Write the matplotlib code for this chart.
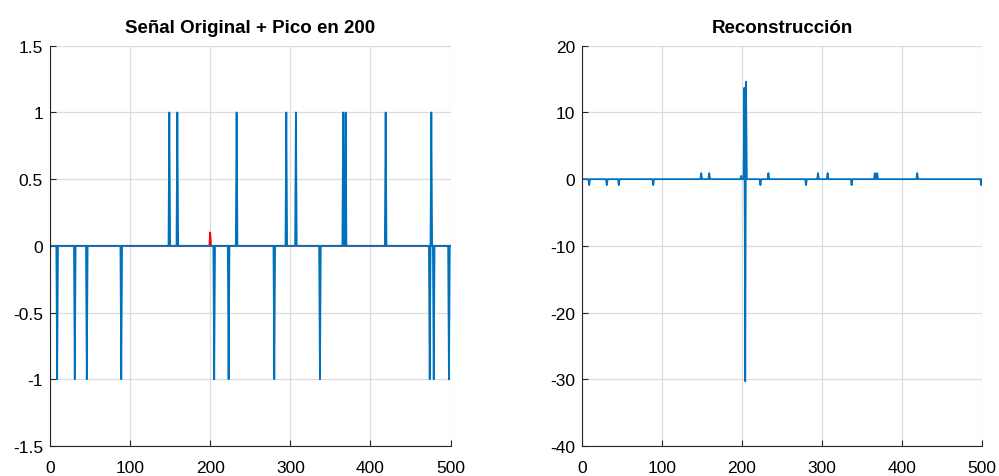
import numpy as np
import matplotlib
matplotlib.use("Agg")
import matplotlib.pyplot as plt

plt.rcParams["font.family"] = ["Liberation Sans", "DejaVu Sans"]

N = 500
# sparse original signal: sample index -> amplitude
spike_pos = [9, 31, 46, 89, 149, 159, 205, 223, 233, 280, 295, 307,
             337, 366, 369, 419, 474, 476, 479, 498]
spike_val = [-1, -1, -1, -1, 1, 1, -1, -1, 1, -1, 1, 1,
             -1, 1, 1, 1, -1, 1, -1, -1]

# added peak
peak_pos = 200
peak_val = 0.1

# reconstruction: sample index -> amplitude
rec_pos = [9, 31, 46, 89, 149, 159, 199, 203, 204, 205, 223, 233, 280,
           295, 307, 337, 366, 369, 419, 499]
rec_val = [-0.9, -0.9, -0.9, -0.9, 0.9, 0.9, 0.5, 13.7, -30.3, 14.6, -0.9,
           0.9, -0.9, 0.9, 0.9, -0.9, 0.9, 0.9, 0.9, -0.9]

n = np.arange(1, N + 1)
signal = np.zeros(N)
signal[np.array(spike_pos) - 1] = spike_val
pico = np.zeros(N)
pico[peak_pos - 1] = peak_val
rec = np.zeros(N)
rec[np.array(rec_pos) - 1] = rec_val

BLUE = "#0072BD"


def style_axes(ax, yticks, ylabels):
    ax.set_xlim(0, 500)
    ax.set_xticks(range(0, 501, 100))
    ax.set_yticks(yticks)
    ax.set_yticklabels(ylabels)
    ax.grid(True, color="#dcdcdc", lw=0.9)
    ax.set_axisbelow(True)
    for side in ("top", "right"):
        ax.spines[side].set_visible(False)
    for side in ("left", "bottom"):
        ax.spines[side].set_color("#262626")
        ax.spines[side].set_linewidth(0.8)
    ax.tick_params(direction="in", length=4, width=0.8, labelsize=12.5,
                   colors="#262626", labelcolor="black", pad=5)
    ax.tick_params(axis="x", pad=10)


fig = plt.figure(figsize=(9.99, 4.77), dpi=100)

ax1 = fig.add_axes([0.050, 0.063, 0.401, 0.839])
ax1.plot(n, pico, color="red", lw=1.3)
ax1.plot(n, signal, color=BLUE, lw=1.3)
ax1.set_ylim(-1.5, 1.5)
style_axes(ax1, [-1.5, -1, -0.5, 0, 0.5, 1, 1.5],
           ["-1.5", "-1", "-0.5", "0", "0.5", "1", "1.5"])
ax1.set_title("Señal Original + Pico en 200", fontsize=13.5,
              fontweight="bold", pad=10)

ax2 = fig.add_axes([0.5826, 0.063, 0.4004, 0.839])
ax2.plot(n, rec, color=BLUE, lw=1.3)
ax2.set_ylim(-40, 20)
style_axes(ax2, range(-40, 21, 10),
           [str(v) for v in range(-40, 21, 10)])
ax2.set_title("Reconstrucción", fontsize=13.5, fontweight="bold", pad=10)

fig.savefig("out.png", dpi=100, facecolor="white")
